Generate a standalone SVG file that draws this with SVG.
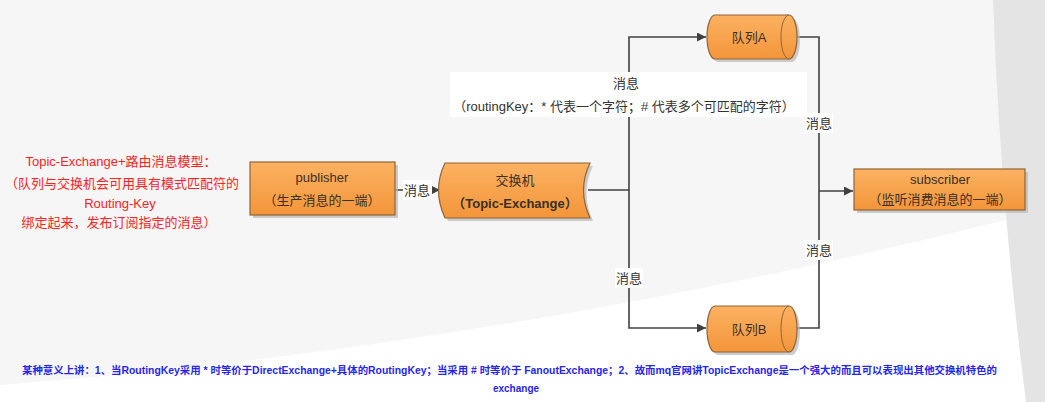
<svg xmlns="http://www.w3.org/2000/svg" width="1045" height="402" viewBox="0 0 1045 402">
<defs>
<linearGradient id="og" x1="0" y1="0" x2="0" y2="1">
<stop offset="0" stop-color="#fcb262"/>
<stop offset="1" stop-color="#f3953a"/>
</linearGradient>
<marker id="ah" viewBox="0 0 10 10" refX="10" refY="5" markerWidth="9" markerHeight="9" markerUnits="userSpaceOnUse" orient="auto">
<path d="M0,0 L10,5 L0,10 Z" fill="#404040"/>
</marker>
<style>
.box{fill:url(#og);stroke:#8f6437;stroke-width:1.2}
.sh{fill:#b8b8b8;opacity:0.7}
.t{font-family:"Liberation Sans","Noto Sans CJK SC",sans-serif;font-size:13px;fill:#3a3025;text-anchor:middle}
.b{font-weight:bold}
.lbl{font-family:"Liberation Sans","Noto Sans CJK SC",sans-serif;font-size:13px;fill:#333;text-anchor:middle}
.red{font-family:"Liberation Sans","Noto Sans CJK SC",sans-serif;font-size:13px;fill:#f22;text-anchor:middle}
.blue{font-family:"Liberation Sans","Noto Sans CJK SC",sans-serif;font-size:10px;font-weight:bold;fill:#2525ee}
.ln{fill:none;stroke:#404040;stroke-width:1.6}
.wb{fill:#ffffff}
</style>
</defs>
<rect x="0" y="0" width="1045" height="402" fill="#f6f6f6"/>
<path d="M0,402 L0,385 Q520,345 1045,210 L1045,402 Z" fill="#ffffff"/>
<path d="M993,0 L1045,0 L1045,402 L1026,402 Q1000,200 993,0 Z" fill="#e4e4e4"/>

<g id="note-left">
<text class="red" x="121" y="166">Topic-Exchange+路由消息模型：</text>
<text class="red" x="122" y="188">（队列与交换机会可用具有模式匹配符的</text>
<text class="red" x="120" y="208">Routing-Key</text>
<text class="red" x="119" y="227">绑定起来，发布订阅指定的消息）</text>
</g>

<g id="connectors">
<path class="ln" d="M395,190 L440,190" marker-end="url(#ah)"/>
<path class="ln" d="M588,190 L629,190"/>
<path class="ln" d="M629,190 L629,37 L706,37" marker-end="url(#ah)"/>
<path class="ln" d="M629,190 L629,328 L706,328" marker-end="url(#ah)"/>
<path class="ln" d="M797,37 L819,37 L819,328 L797,328"/>
<path class="ln" d="M819,191 L853,191" marker-end="url(#ah)"/>
<rect class="wb" x="403" y="180" width="29" height="20"/>
<text class="lbl" x="417" y="195">消息</text>
<rect class="wb" x="450" y="72" width="357" height="45"/>
<text class="lbl" x="626" y="88">消息</text>
<text class="lbl" x="624" y="111">（routingKey：* 代表一个字符；# 代表多个可匹配的字符）</text>
<rect class="wb" x="805" y="113" width="28" height="20"/>
<text class="lbl" x="819" y="128">消息</text>
<rect class="wb" x="805" y="240" width="28" height="20"/>
<text class="lbl" x="819" y="255">消息</text>
<rect class="wb" x="615" y="268" width="28" height="20"/>
<text class="lbl" x="629" y="283">消息</text>
</g>

<g id="publisher">
<rect class="sh" x="253" y="165" width="145" height="53"/>
<rect class="box" x="250" y="162" width="145" height="53"/>
<text class="t" x="322" y="182">publisher</text>
<text class="t" x="322" y="205">（生产消息的一端）</text>
</g>

<g id="exchange">
<path class="sh" d="M448,166 L593,166 Q580,193 593,221 L448,221 Q435,193 448,166 Z"/>
<path class="box" d="M445,163 L590,163 Q577,190 590,218 L445,218 Q432,190 445,163 Z"/>
<text class="t" x="515" y="185">交换机</text>
<text class="t b" x="515" y="208">（Topic-Exchange）</text>
</g>

<g id="queueA">
<path class="sh" d="M718,18 L792,18 A8,22 0 0 1 792,62 L718,62 A8,22 0 0 1 718,18 Z"/>
<path class="box" d="M715,15 L789,15 A8,22 0 0 1 789,59 L715,59 A8,22 0 0 1 715,15 Z"/>
<path d="M789,15 A8,22 0 0 0 789,59" fill="none" stroke="#8f6437" stroke-width="1"/>
<text class="t" x="749" y="42">队列A</text>
</g>

<g id="queueB">
<path class="sh" d="M718,309 L792,309 A8,23 0 0 1 792,355 L718,355 A8,23 0 0 1 718,309 Z"/>
<path class="box" d="M715,306 L789,306 A8,23 0 0 1 789,352 L715,352 A8,23 0 0 1 715,306 Z"/>
<path d="M789,306 A8,23 0 0 0 789,352" fill="none" stroke="#8f6437" stroke-width="1"/>
<text class="t" x="749" y="334">队列B</text>
</g>

<g id="subscriber">
<rect class="sh" x="857" y="172" width="171" height="41"/>
<rect class="box" x="854" y="169" width="171" height="41"/>
<text class="t" x="940" y="184">subscriber</text>
<text class="t" x="940" y="204">（监听消费消息的一端）</text>
</g>

<g id="note-bottom">
<text class="blue" x="22" y="374" textLength="975" lengthAdjust="spacingAndGlyphs">某种意义上讲：1、当RoutingKey采用 * 时等价于DirectExchange+具体的RoutingKey；当采用 # 时等价于 FanoutExchange；2、故而mq官网讲TopicExchange是一个强大的而且可以表现出其他交换机特色的</text>
<text class="blue" x="516" y="392" text-anchor="middle">exchange</text>
</g>
</svg>
